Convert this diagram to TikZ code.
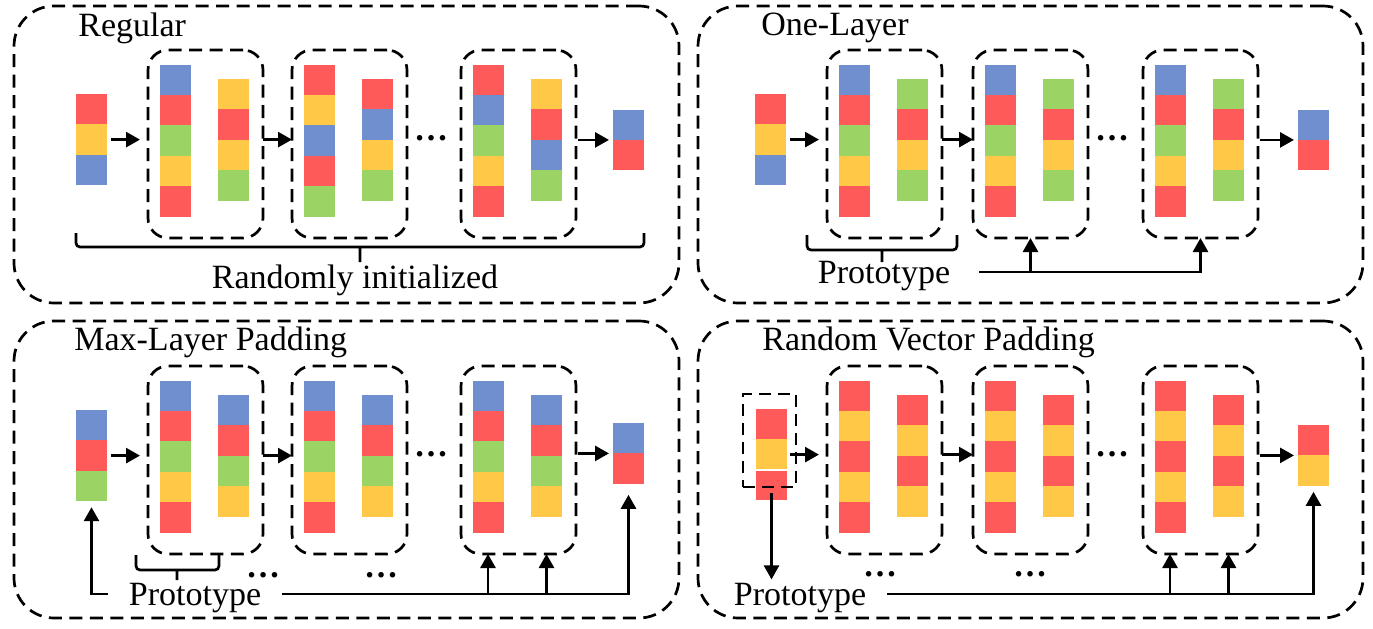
\documentclass[tikz,border=0pt]{standalone}
\usepackage{fontspec}
\setmainfont{Liberation Serif}
\usetikzlibrary{arrows.meta}
\usetikzlibrary{positioning,calc}

\definecolor{vred}{RGB}{255,90,90}
\definecolor{vyellow}{RGB}{255,201,71}
\definecolor{vblue}{RGB}{111,143,207}
\definecolor{vgreen}{RGB}{155,211,101}

\tikzset{
  cell/.style={inner sep=0pt,outer sep=0pt,minimum width=15.5pt,minimum height=15.2pt,anchor=north west},
  panel/.style={draw,outer sep=0pt,dash pattern=on 6.5pt off 3.75pt,rounded corners=20pt,minimum width=332.5pt,minimum height=148.5pt},
  layerbox/.style={draw,outer sep=0pt,dash pattern=on 6.5pt off 3.75pt,rounded corners=10pt,minimum width=57.5pt,minimum height=94pt,anchor=north west},
  padbox/.style={draw,outer sep=0pt,dash pattern=on 6pt off 3.5pt,minimum width=26.5pt,minimum height=46.5pt},
  lbl/.style={font=\fontsize{17}{20}\selectfont,inner sep=0pt},
  proto/.style={lbl,anchor=base,inner sep=1pt,text depth=0pt},
  dots/.style={lbl,anchor=base,font=\fontsize{17}{20}\selectfont\bfseries},
  brc/.style={rounded corners=2pt},
}

% one vector: name, top left corner, colours from top to bottom
\newcommand{\vcol}[4]{%
  \foreach \col [count=\i] in {#4}
    \node[cell,fill=\col] (#1-\i) at (#2,{#3+(\i-1)*30.4}) {};
}
% one layer: dashed box with its two vectors
\newcommand{\layer}[5]{%
  \node[layerbox] (#1) at (#2,#3) {};
  \vcol{#1-a}{#2+11.5}{#3+14.5}{#4}
  \vcol{#1-b}{#2+70}{#3+29}{#5}
}

\begin{document}
\begin{tikzpicture}[x=0.5pt,y=-0.5pt,line width=1.35pt,>={Triangle[length=7pt,width=7.5pt]}]
    \useasboundingbox (0,0) rectangle (1373,628);
    \node[panel] (tl) at (346.5,154.5) {};
    \node[panel] (tr) at (1030.5,154.5) {};
    \node[panel] (bl) at (346.5,469.5) {};
    \node[panel] (br) at (1030.5,469.5) {};

    % Regular
    \node[lbl,anchor=base west] (tl-title) at (77,36) {Regular};
    \vcol{tl-in}{76}{94}{vred,vyellow,vblue}
    \layer{tl-b1}{148}{50}{vblue,vred,vgreen,vyellow,vred}{vyellow,vred,vyellow,vgreen}
    \layer{tl-b2}{292}{50}{vred,vyellow,vblue,vred,vgreen}{vred,vblue,vyellow,vgreen}
    \layer{tl-b3}{461}{50}{vred,vblue,vgreen,vyellow,vred}{vyellow,vred,vblue,vgreen}
    \vcol{tl-out}{613}{109.5}{vblue,vred}
    \draw[->,shorten <=2pt,shorten >=4pt] (tl-in-2.east) -- (tl-in-2.east -| tl-b1.west);
    \draw[->] (tl-b1.east |- tl-in-2.east) -- (tl-b2.west |- tl-in-2.east);
    \draw[->,shorten <=1pt,shorten >=2pt] (tl-b3.east |- tl-out-1.south) -- (tl-out-1.south west);
    \node[dots] (tl-dots) at (431,140) {…};
    \draw[brc] (76,233) -- (76,247) -- (644,247) -- (644,233) (360,247) -- (360,262);
    \node[lbl,anchor=base] (tl-note) at (355,288) {Randomly initialized};

    % One-Layer
    \node[lbl,anchor=base west] (tr-title) at (760,35) {One-Layer};
    \vcol{tr-in}{755}{94}{vred,vyellow,vblue}
    \layer{tr-b1}{827}{50}{vblue,vred,vgreen,vyellow,vred}{vgreen,vred,vyellow,vgreen}
    \layer{tr-b2}{973}{50}{vblue,vred,vgreen,vyellow,vred}{vgreen,vred,vyellow,vgreen}
    \layer{tr-b3}{1143}{50}{vblue,vred,vgreen,vyellow,vred}{vgreen,vred,vyellow,vgreen}
    \vcol{tr-out}{1298}{109.5}{vblue,vred}
    \draw[->,shorten <=2pt,shorten >=4pt] (tr-in-2.east) -- (tr-in-2.east -| tr-b1.west);
    \draw[->] (tr-b1.east |- tr-in-2.east) -- (tr-b2.west |- tr-in-2.east);
    \draw[->,shorten <=1pt,shorten >=2pt] (tr-b3.east |- tr-out-1.south) -- (tr-out-1.south west);
    \node[dots] (tr-dots) at (1112,140) {…};
    \draw[brc] (807,235) -- (807,250) -- (957,250) -- (957,235) (882,250) -- (882,262);
    \node[proto] (tr-proto) at (884,283) {Prototype};
    \draw[->,shorten <=13pt] (tr-proto.east) -| (tr-b3.south);
    \draw[->] (tr-b2.south |- tr-proto.east) -- (tr-b2.south);

    % Max-Layer Padding
    \node[lbl,anchor=base west] (bl-title) at (73,350) {Max-Layer Padding};
    \vcol{bl-in}{76}{410}{vblue,vred,vgreen}
    \layer{bl-b1}{148}{366}{vblue,vred,vgreen,vyellow,vred}{vblue,vred,vgreen,vyellow}
    \layer{bl-b2}{292}{366}{vblue,vred,vgreen,vyellow,vred}{vblue,vred,vgreen,vyellow}
    \layer{bl-b3}{461}{366}{vblue,vred,vgreen,vyellow,vred}{vblue,vred,vgreen,vyellow}
    \vcol{bl-out}{613}{423}{vblue,vred}
    \draw[->,shorten <=2pt,shorten >=4pt] (bl-in-2.east) -- (bl-in-2.east -| bl-b1.west);
    \draw[->] (bl-b1.east |- bl-in-2.east) -- (bl-b2.west |- bl-in-2.east);
    \draw[->,shorten <=1pt,shorten >=2pt] (bl-b3.east |- bl-out-1.south) -- (bl-out-1.south west);
    \node[dots] (bl-dots) at (431,456) {…};
    \node[dots] (bl-dots1) at (263,577) {…};
    \node[dots] (bl-dots2) at (381,577) {…};
    \draw[brc] (136,555) -- (136,570) -- (219,570) -- (219,555) (177,570) -- (177,580);
    \node[proto] (bl-proto) at (195,605) {Prototype};
    \draw[->,shorten <=9pt,shorten >=3pt] (bl-proto.west) -| (bl-in-3.south);
    \draw[->,shorten <=9pt,shorten >=5.5pt] (bl-proto.east) -| (bl-out-2.south);
    \draw[->] (bl-b3-a-5.south |- bl-proto.east) -- (bl-b3-a-5.south |- bl-b3.south);
    \draw[->] (bl-b3-b-4.south |- bl-proto.east) -- (bl-b3-b-4.south |- bl-b3.south);

    % Random Vector Padding
    \node[lbl,anchor=base west] (br-title) at (761,350) {Random Vector Padding};
    \vcol{br-in}{756}{409}{vred,vyellow,vred}
    \draw[white,line width=1pt] (br-in-3.north west) -- (br-in-3.north east);
    \node[padbox] (br-pad) at (769.5,440.5) {};
    \layer{br-b1}{827}{366}{vred,vyellow,vred,vyellow,vred}{vred,vyellow,vred,vyellow}
    \layer{br-b2}{973}{366}{vred,vyellow,vred,vyellow,vred}{vred,vyellow,vred,vyellow}
    \layer{br-b3}{1143}{366}{vred,vyellow,vred,vyellow,vred}{vred,vyellow,vred,vyellow}
    \vcol{br-out}{1298}{425}{vred,vyellow}
    \draw[->,shorten <=1.5pt,shorten >=4pt] (br-in-2.east) -- (br-in-2.east -| br-b1.west);
    \draw[->] (br-b1.east |- br-in-2.east) -- (br-b2.west |- br-in-2.east);
    \draw[->,shorten <=1pt,shorten >=2pt] (br-b3.east |- br-out-1.south) -- (br-out-1.south west);
    \node[dots] (br-dots) at (1112,456) {…};
    \node[dots] (br-dots1) at (880,576) {…};
    \node[dots] (br-dots2) at (1030,576) {…};
    \node[proto] (br-proto) at (800,605) {Prototype};
    \draw[->,shorten <=3.75pt] (br-in-3.center) -- (br-in-3.center |- br-proto.north);
    \draw[->,shorten <=9pt,shorten >=3pt] (br-proto.east) -| (br-out-2.south);
    \draw[->] (br-b3-a-5.south |- br-proto.east) -- (br-b3-a-5.south |- br-b3.south);
    \draw[->] (br-b3-b-4.south |- br-proto.east) -- (br-b3-b-4.south |- br-b3.south);
\end{tikzpicture}
\end{document}
